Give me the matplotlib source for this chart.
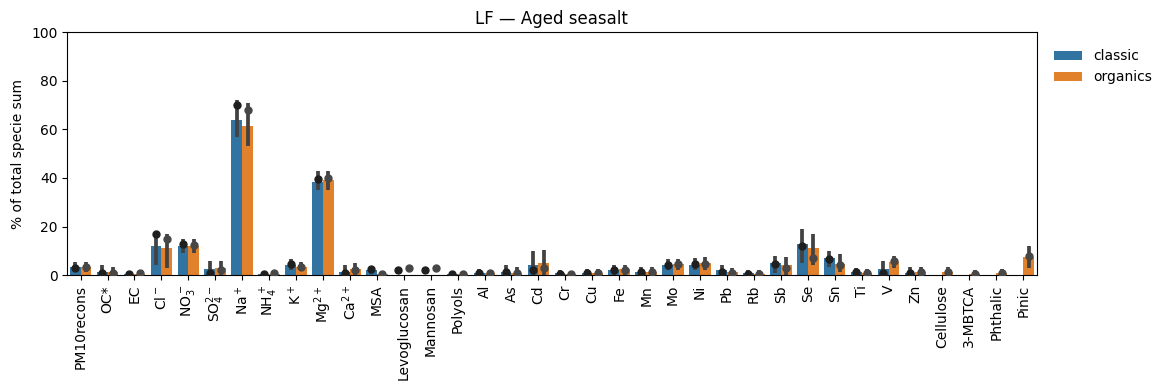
import numpy as np
import matplotlib
matplotlib.use("Agg")
import matplotlib.pyplot as plt

categories = ["PM10recons", "OC*", "EC", r"Cl$^-$", r"NO$_3^-$", r"SO$_4^{2-}$", r"Na$^+$",
              r"NH$_4^+$", r"K$^+$", r"Mg$^{2+}$", r"Ca$^{2+}$", "MSA", "Levoglucosan",
              "Mannosan", "Polyols", "Al", "As", "Cd", "Cr", "Cu", "Fe", "Mn", "Mo", "Ni",
              "Pb", "Rb", "Sb", "Se", "Sn", "Ti", "V", "Zn", "Cellulose", "3-MBTCA",
              "Phthalic", "Pinic"]

classic_mean = [3.5, 1.5, 0.5, 12, 12, 2.5, 64, 0.5, 4, 38.5, 1.5, 2, 0, 0, 0.3, 1, 1.5, 4,
                0.8, 1, 2, 1.5, 4, 4, 2, 0.8, 5, 13, 7, 1.5, 2.5, 1, 0, 0, 0, 0]
classic_lo = [1.5, 0, 0, 4, 9, 0, 57, 0, 2, 35, 0, 0.5, 0, 0, 0, 0, 0, 0,
              0, 0, 0, 0, 2, 2, 0, 0, 1, 5, 3.5, 0, 0, 0, 0, 0, 0, 0]
classic_hi = [5.5, 4, 1.5, 18, 15, 6, 72, 0.8, 6.5, 43, 4, 3.5, 0, 0, 0.5, 2.5, 4, 10,
              2, 2.5, 4, 3.5, 6.5, 7, 4, 2, 8, 19, 10, 3, 6, 3.5, 0, 0, 0, 0]
classic_pt = [3, 1, 0.5, 17, 13, 1, 70, 0.5, 4.5, 39.5, 1, 2.5, 2.3, 2, 0.4, 0.8, 1.2, 2,
              0.5, 0.8, 2, 1.5, 4, 4.5, 1.5, 0.5, 4.5, 12, 6.5, 1.2, 1, 0.8, np.nan, np.nan,
              np.nan, np.nan]

organics_mean = [3.5, 1.2, 0.3, 11, 12, 3, 61.5, 0.3, 3.5, 39, 2.5, 0.3, 0, 0, 0.3, 0.7, 1,
                 5, 0.3, 1, 2.5, 1.5, 4.5, 5, 1.2, 0.5, 4, 11, 4.5, 1, 5.5, 1.5, 1.5, 0.5,
                 0.8, 7.5]
organics_lo = [1.5, 0, 0, 3, 9, 0, 53, 0, 2, 35, 0, 0, 0, 0, 0, 0, 0, 0,
               0, 0, 0, 0, 2, 2, 0, 0, 0, 4, 1.5, 0, 3, 0, 0, 0, 0, 3]
organics_hi = [5.5, 3.5, 1, 17, 15, 6, 71, 0.8, 5.5, 43, 5, 0.5, 0, 0, 0.5, 2, 3.5, 10.5,
               1, 2.5, 4, 3.5, 6.5, 7.5, 3, 2, 7.5, 17, 8.5, 2.5, 8, 3.5, 3.5, 2, 2.5, 12]
organics_pt = [3.5, 0.8, 0.7, 15, 12.5, 2, 68, 0.8, 3.5, 40, 2, 0.3, 3, 3, 0.4, 0.7, 1, 3,
               0.5, 1, 2, 1.5, 4.5, 4.5, 1, 0.5, 3, 7, 4, 1, 6, 1.2, 1.5, 0.5, 0.8, 8]

fig = plt.figure(figsize=(11.57, 3.87), dpi=100)
ax = fig.add_axes([0.058, 0.289, 0.838, 0.628])

x = np.arange(len(categories))
w = 0.4
blue = "#3274a1"
orange = "#e1812c"
errc = "#424242"

ax.bar(x - w / 2, classic_mean, width=w, color=blue, label="classic")
ax.bar(x + w / 2, organics_mean, width=w, color=orange, label="organics")
ax.vlines(x - w / 2, classic_lo, classic_hi, color=errc, lw=2.7, zorder=3)
ax.vlines(x + w / 2, organics_lo, organics_hi, color=errc, lw=2.7, zorder=3)
ax.plot(x - w / 2, classic_pt, "o", color="#1f1f1f", ms=5, zorder=4, ls="none")
ax.plot(x + w / 2, organics_pt, "o", color="#474747", ms=5, zorder=4, ls="none")

ax.set_xlim(-0.5, len(categories) - 0.5)
ax.set_ylim(0, 100)
ax.set_xticks(x)
ax.set_xticklabels(categories, rotation=90)
ax.set_ylabel("% of total specie sum")
ax.set_title("LF — Aged seasalt")
ax.legend(loc="upper left", bbox_to_anchor=(1.005, 0.98), frameon=False)

fig.savefig("out.png", dpi=100)
